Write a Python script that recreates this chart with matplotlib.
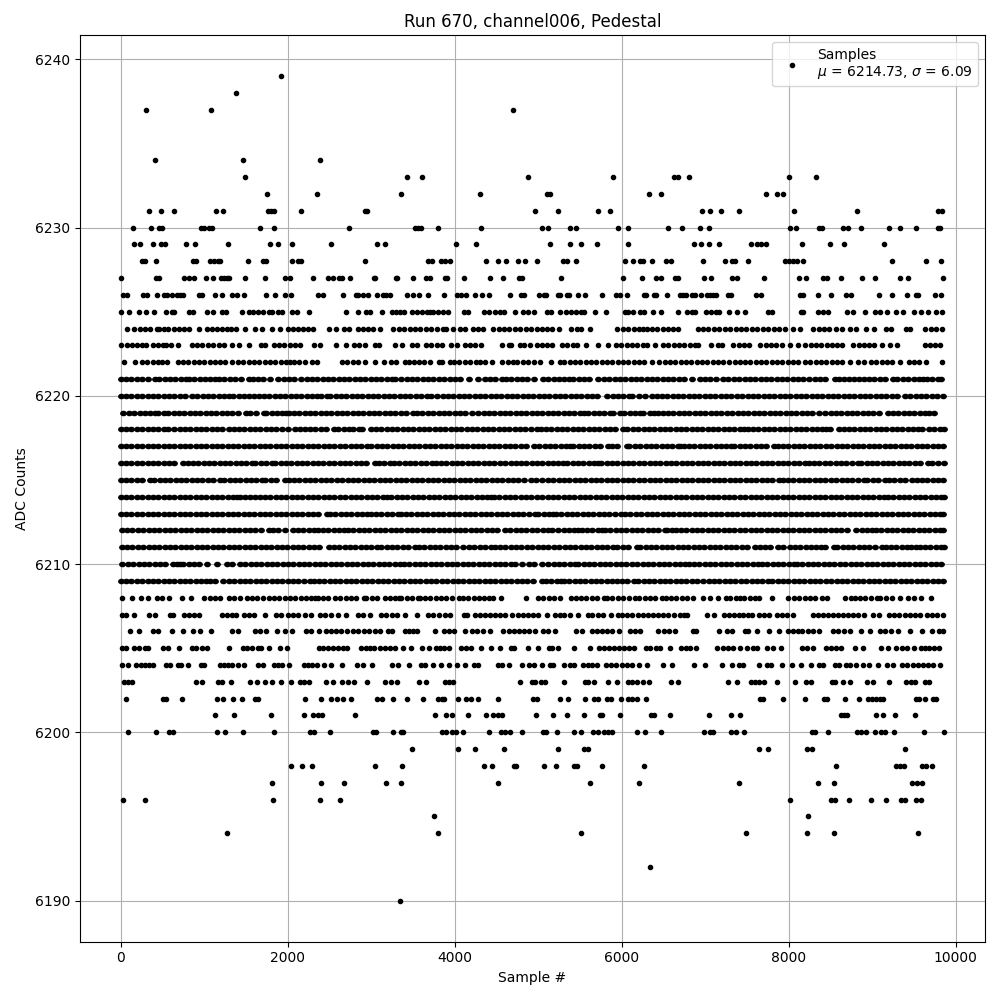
import matplotlib
matplotlib.use('Agg')
import matplotlib.pyplot as plt
from matplotlib.markers import MarkerStyle
from matplotlib.transforms import Affine2D

# sample numbers, one list per ADC level
adc_6190 = [3344]
adc_6192 = [6334]
adc_6194 = [1268, 3800, 5518, 7486, 8218, 8542, 9550]
adc_6195 = [3752, 8230]
adc_6196 = [32, 284, 1820, 2384, 2624, 8014, 8506, 8554, 8722, 8986, 9166, 9346, 9394, 9526, 9586]
adc_6197 = [1808, 2396, 2672, 3176, 3360, 4520, 5626, 6202, 7402, 8350, 8542, 9478, 9538, 9598]
adc_6198 = [2036, 2168, 2288, 3044, 3368, 4352, 4448, 4712, 4736, 5074, 5218, 5434, 5470, 5770, 6262, 8566, 9286, 9334, 9382, 9598, 9646, 9718]
adc_6199 = [3488, 4040, 4244, 4592, 5242, 5554, 5602, 7642, 7750, 8218, 8278, 9394]
adc_6200 = [92, 416, 572, 620, 1148, 1244, 1460, 1832, 2264, 2312, 2504, 3020, 3056, 3260, 3356, 3380, 3848, 3896, 3968, 4016, 4100, 4412, 4556, 4604, 4664, 4808,
            5062, 5098, 5230, 5434, 5518, 5662, 5722, 5794, 5842, 5890, 6178, 6274, 6466, 6982, 7054, 7090, 7306, 7366, 7462, 8278, 8314, 8470, 8818, 8866, 8926, 9034, 9106, 9154, 9262, 9622, 9860]
adc_6201 = [1124, 1352, 1796, 2192, 2300, 2360, 2408, 2804, 3764, 3896, 3968, 4160, 4376, 4460, 4520, 4568, 4976, 5182, 5350, 5554, 5746, 5770, 5986, 6346, 6382, 6574, 7042, 7306, 7414, 8626, 8662, 8698, 9046, 9130, 9274, 9514]
adc_6202 = [68, 500, 536, 728, 1148, 1220, 1340, 1448, 1604, 1640, 2204, 2396, 2516, 2588, 2660, 2756, 3068, 3128, 3260, 3428, 3620, 3800, 3848, 3872, 4040, 4136, 4196, 4280, 4520, 4942, 4990, 5266, 5362, 5566, 5674, 5722, 5830, 5878, 5998, 6082, 6130, 6178, 6286, 7654, 7690, 7930, 8194, 8422, 8458, 8674, 8842, 8950, 8998, 9046, 9094, 9130, 9526, 9562, 9634, 9730, 9766]
adc_6203 = [44, 92, 140, 896, 968, 1160, 1208, 1316, 1544, 1628, 1724, 1808, 1916, 2036, 2144, 2192, 2252, 2456, 2540, 2648, 2720, 2792, 2948, 3164, 3236, 3308, 3572, 3656, 3884, 3932, 3980, 4784, 4928, 4964, 5038, 5086, 5314, 5566, 5602, 5674, 5842, 5950, 6082, 6130, 6178, 6250, 6322, 6586, 6670, 7270, 7378, 7546, 7594, 7642, 7702, 7858, 8074, 8206, 8266, 8518, 8554, 8650, 8734, 8938, 9010, 9202, 9406, 9466, 9514, 9634, 9682]
adc_6204 = [20, 92, 188, 236, 284, 332, 380, 536, 584, 680, 716, 800, 956, 992, 1184, 1232, 1280, 1328, 1400, 1472, 1640, 1700, 1832, 1880, 1928, 2012, 2192, 2240, 2288, 2348, 2432, 2516, 2648, 2828, 2900, 3008, 3248, 3320, 3452, 3596, 3644, 3740, 3836, 3932, 4028, 4124, 4232, 4280, 4520, 4568, 4652, 4808, 4892, 4954, 5050, 5146, 5182, 5314, 5386, 5434, 5542, 5602, 5650, 5710, 5818, 5878, 5938, 6010, 6070, 6130, 6202, 6298, 6490, 6598, 6862, 6994, 7198, 7318, 7402, 7450, 7642, 7738, 7786, 7918, 8038, 8146, 8266, 8362, 8410, 8554, 8602, 8686, 8734, 8806, 8890, 8962, 9070, 9178, 9250, 9358, 9418, 9490, 9550, 9610, 9670, 9730, 9814]
adc_6205 = [20, 68, 164, 212, 284, 320, 500, 560, 692, 848, 896, 968, 1028, 1292, 1460, 1508, 1568, 1640, 1676, 1772, 1904, 1988, 2372, 2420, 2480, 2540, 2600, 2660, 2708, 2876, 2936, 2984, 3032, 3104, 3164, 3224, 3284, 3380, 3476, 3608, 3692, 3776, 3824, 3872, 3932, 4076, 4136, 4196, 4316, 4436, 4544, 4676, 4712, 4880, 5000, 5134, 5170, 5242, 5434, 5626, 5734, 5794, 5854, 5914, 5974, 6034, 6094, 6154, 6286, 6334, 6406, 6454, 6574, 6706, 6766, 6814, 6886, 7138, 7210, 7270, 7330, 7414, 7498, 7570, 7618, 7738, 7810, 7906, 8158, 8218, 8290, 8446, 8506, 8566, 8626, 8794, 8890, 9106, 9190, 9286, 9358, 9418, 9502, 9586, 9634, 9682, 9742, 9802]
adc_6206 = [116, 212, 380, 440, 608, 740, 860, 944, 1076, 1328, 1400, 1604, 1664, 1736, 1868, 1964, 2048, 2216, 2276, 2372, 2456, 2516, 2576, 2636, 2708, 2780, 2840, 2912, 2972, 3044, 3104, 3200, 3248, 3404, 3452, 3500, 3548, 3764, 3872, 3932, 3992, 4124, 4208, 4268, 4340, 4424, 4580, 4652, 4712, 4772, 4832, 4892, 4964, 5062, 5122, 5206, 5458, 5530, 5650, 5710, 5770, 5830, 5890, 5974, 6106, 6166, 6214, 6430, 6502, 6562, 6634, 6850, 6886, 7162, 7258, 7318, 7474, 7510, 7618, 7762, 7882, 7990, 8050, 8110, 8158, 8230, 8290, 8362, 8530, 8590, 8662, 8734, 8866, 8974, 9094, 9154, 9226, 9310, 9454, 9594, 9718, 9802, 9850]
adc_6207 = [20, 68, 164, 332, 404, 584, 620, 752, 812, 872, 932, 1208, 1268, 1328, 1376, 1472, 1532, 1592, 1724, 1856, 1916, 2000, 2060, 2120, 2204, 2276, 2384, 2444, 2516, 2600, 2696, 2840, 2900, 2984, 3116, 3176, 3248, 3308, 3404, 3548, 3680, 3740, 3816, 3884, 3944, 4112, 4148, 4244, 4304, 4364, 4424, 4484, 4544, 4604, 4688, 4760, 4820, 4880, 4940, 5000, 5110, 5206, 5266, 5314, 5386, 5482, 5602, 5650, 5722, 5782, 5878, 5962, 6010, 6070, 6130, 6190, 6250, 6310, 6370, 6430, 6490, 6550, 6622, 6694, 6742, 6778, 7018, 7102, 7222, 7282, 7342, 7402, 7450, 7510, 7558, 7642, 7702, 7762, 7858, 7918, 7978, 8050, 8290, 8350, 8410, 8470, 8530, 8590, 8650, 8710, 8770, 8830, 8902, 9010, 9082, 9202, 9262, 9322, 9394, 9454, 9514, 9574, 9658, 9718, 9778, 9850]
adc_6208 = [12, 132, 240, 320, 428, 490, 580, 732, 840, 1000, 1064, 1128, 1192, 1292, 1356, 1430, 1508, 1572, 1636, 1708, 1772, 1836, 1900, 1964, 2028, 2092, 2156, 2220, 2284, 2332, 2360, 2424, 2488, 2570, 2628, 2692, 2756, 2820, 2910, 2940, 3010, 3074, 3160, 3220, 3284, 3335, 3360, 3424, 3488, 3555, 3580, 3644, 3708, 3772, 3836, 3900, 3964, 4050, 4100, 4164, 4228, 4292, 4356, 4415, 4460, 4550, 4852, 5000, 5060, 5124, 5190, 5265, 5390, 5450, 5514, 5578, 5642, 5706, 5785, 5830, 5890, 5954, 6018, 6090, 6158, 6210, 6274, 6338, 6402, 6485, 6530, 6590, 6654, 6718, 6785, 6850, 6970, 7058, 7150, 7245, 7302, 7366, 7415, 7470, 7534, 7598, 7645, 7798, 7990, 8065, 8130, 8194, 8258, 8322, 8405, 8458, 8670, 8745, 8790, 8854, 8918, 8982, 9065, 9098, 9162, 9236, 9334, 9430, 9505, 9590, 9710]
adc_6209 = [0, 64, 128, 192, 256, 320, 384, 448, 512, 576, 640, 704, 768, 832, 896, 960, 1024, 1070, 1132, 1230, 1294, 1358, 1422, 1486, 1550, 1614, 1678, 1742, 1806, 1870, 1934, 1998, 2062, 2126, 2190, 2265, 2310, 2374, 2438, 2502, 2566, 2630, 2694, 2758, 2822, 2886, 2950, 3014, 3078, 3142, 3206, 3270, 3334, 3398, 3462, 3526, 3590, 3654, 3718, 3782, 3846, 3910, 3974, 4038, 4102, 4166, 4230, 4294, 4358, 4422, 4486, 4550, 4614, 4678, 4742, 4806, 4870, 4934, 5040, 5095, 5159, 5223, 5270, 5310, 5374, 5438, 5502, 5566, 5630, 5694, 5758, 5822, 5886, 5950, 6005, 6065, 6150, 6200, 6264, 6328, 6392, 6456, 6520, 6584, 6648, 6712, 6776, 6840, 6904, 6975, 7050, 7108, 7172, 7236, 7300, 7364, 7428, 7492, 7556, 7620, 7684, 7755, 7802, 7870, 7934, 7998, 8062, 8126, 8190, 8254, 8318, 8382, 8446, 8510, 8574, 8638, 8702, 8766, 8830, 8894, 8958, 9022, 9086, 9150, 9214, 9278, 9342, 9406, 9470, 9534, 9598, 9662, 9726, 9795, 9850]
adc_6210 = [20, 84, 148, 212, 276, 340, 404, 468, 532, 625, 670, 712, 750, 814, 878, 942, 1030, 1158, 1275, 1330, 1428, 1490, 1554, 1618, 1682, 1746, 1810, 1874, 1938, 2002, 2066, 2130, 2194, 2258, 2322, 2386, 2450, 2514, 2578, 2642, 2706, 2770, 2834, 2898, 2962, 3026, 3090, 3154, 3218, 3282, 3350, 3392, 3456, 3520, 3584, 3648, 3712, 3776, 3840, 3904, 3968, 4032, 4096, 4160, 4224, 4288, 4352, 4416, 4480, 4544, 4608, 4672, 4720, 4808, 4892, 4956, 5045, 5122, 5186, 5250, 5314, 5378, 5440, 5482, 5546, 5610, 5674, 5738, 5802, 5866, 5930, 5994, 6058, 6122, 6186, 6250, 6314, 6378, 6442, 6506, 6570, 6634, 6698, 6760, 6802, 6866, 6930, 6994, 7058, 7122, 7186, 7250, 7314, 7378, 7442, 7506, 7570, 7632, 7682, 7746, 7810, 7874, 7938, 8002, 8060, 8102, 8166, 8230, 8294, 8358, 8422, 8486, 8550, 8614, 8678, 8742, 8806, 8870, 8934, 8998, 9062, 9126, 9190, 9254, 9318, 9382, 9446, 9510, 9574, 9638, 9702, 9766, 9825]
adc_6211 = [12, 76, 140, 204, 268, 332, 396, 460, 524, 588, 652, 716, 780, 844, 908, 972, 1036, 1100, 1164, 1228, 1292, 1356, 1420, 1484, 1548, 1612, 1676, 1740, 1804, 1868, 1932, 1996, 2060, 2124, 2188, 2252, 2316, 2380, 2490, 2552, 2616, 2680, 2744, 2808, 2872, 2936, 3000, 3070, 3120, 3184, 3248, 3312, 3376, 3440, 3530, 3572, 3636, 3700, 3764, 3828, 3892, 3956, 4020, 4098, 4172, 4236, 4300, 4364, 4430, 4480, 4544, 4608, 4672, 4736, 4800, 4864, 4928, 4992, 5056, 5120, 5190, 5254, 5318, 5382, 5446, 5510, 5574, 5638, 5702, 5766, 5830, 5900, 5950, 6014, 6078, 6180, 6222, 6286, 6350, 6414, 6478, 6542, 6606, 6670, 6734, 6798, 6862, 6926, 6990, 7054, 7118, 7182, 7246, 7310, 7374, 7438, 7502, 7600, 7654, 7718, 7782, 7872, 7930, 8014, 8078, 8142, 8206, 8270, 8334, 8392, 8442, 8540, 8582, 8646, 8710, 8774, 8838, 8902, 8966, 9030, 9120, 9162, 9226, 9290, 9354, 9420, 9462, 9526, 9580, 9634, 9698, 9768, 9822, 9858]
adc_6212 = [12, 76, 140, 204, 268, 332, 396, 460, 524, 588, 652, 716, 780, 844, 908, 972, 1036, 1100, 1164, 1228, 1292, 1356, 1420, 1484, 1548, 1612, 1676, 1770, 1824, 1888, 1970, 2060, 2124, 2188, 2252, 2310, 2360, 2424, 2488, 2552, 2616, 2670, 2720, 2784, 2848, 2912, 2976, 3040, 3104, 3168, 3232, 3296, 3360, 3424, 3488, 3552, 3616, 3680, 3744, 3808, 3872, 3936, 4000, 4064, 4128, 4192, 4256, 4320, 4384, 4448, 4510, 4604, 4668, 4732, 4796, 4860, 4924, 4988, 5052, 5116, 5160, 5240, 5304, 5368, 5432, 5480, 5520, 5584, 5648, 5712, 5760, 5800, 5864, 5928, 5992, 6056, 6120, 6184, 6248, 6312, 6376, 6440, 6520, 6548, 6600, 6648, 6712, 6776, 6840, 6904, 6968, 7032, 7096, 7160, 7224, 7288, 7352, 7416, 7480, 7544, 7608, 7672, 7736, 7800, 7864, 7928, 7992, 8056, 8120, 8184, 8248, 8312, 8376, 8440, 8504, 8568, 8632, 8700, 8812, 8876, 8940, 9000, 9048, 9112, 9176, 9240, 9304, 9368, 9432, 9496, 9560, 9624, 9688, 9752, 9816, 9855]
adc_6213 = [0, 64, 128, 192, 256, 320, 384, 448, 512, 576, 640, 704, 768, 832, 896, 960, 1024, 1088, 1152, 1216, 1280, 1344, 1408, 1472, 1536, 1600, 1664, 1728, 1792, 1856, 1920, 1984, 2048, 2112, 2176, 2240, 2304, 2368, 2470, 2505, 2569, 2633, 2697, 2761, 2825, 2889, 2950, 2992, 3056, 3120, 3184, 3248, 3322, 3352, 3416, 3480, 3544, 3608, 3672, 3736, 3800, 3864, 3928, 3992, 4056, 4120, 4184, 4248, 4312, 4376, 4440, 4504, 4568, 4632, 4696, 4760, 4824, 4888, 4960, 5000, 5064, 5128, 5180, 5214, 5278, 5342, 5406, 5470, 5534, 5598, 5662, 5726, 5790, 5854, 5918, 5992, 6042, 6106, 6170, 6234, 6298, 6362, 6426, 6490, 6554, 6618, 6682, 6746, 6810, 6874, 6938, 7002, 7066, 7130, 7194, 7258, 7322, 7386, 7450, 7514, 7578, 7642, 7706, 7770, 7834, 7898, 7962, 8026, 8090, 8154, 8218, 8282, 8346, 8410, 8474, 8538, 8602, 8666, 8730, 8794, 8858, 8922, 8986, 9050, 9114, 9178, 9242, 9306, 9370, 9434, 9498, 9562, 9626, 9690, 9754, 9818, 9855]
adc_6214 = [0, 64, 128, 192, 256, 320, 384, 448, 512, 576, 640, 704, 768, 832, 896, 960, 1024, 1088, 1152, 1216, 1280, 1344, 1395, 1424, 1488, 1552, 1610, 1664, 1728, 1792, 1856, 1920, 1984, 2048, 2112, 2176, 2240, 2304, 2368, 2432, 2496, 2560, 2624, 2688, 2752, 2816, 2880, 2944, 3008, 3072, 3136, 3190, 3240, 3304, 3368, 3432, 3496, 3560, 3624, 3688, 3752, 3816, 3880, 3944, 4008, 4072, 4136, 4200, 4264, 4328, 4390, 4430, 4472, 4536, 4600, 4664, 4728, 4792, 4856, 4920, 4984, 5048, 5112, 5176, 5240, 5304, 5368, 5432, 5496, 5560, 5624, 5688, 5752, 5816, 5880, 5944, 6008, 6072, 6136, 6200, 6264, 6328, 6392, 6456, 6520, 6584, 6648, 6712, 6776, 6840, 6904, 6968, 7032, 7096, 7160, 7224, 7288, 7352, 7416, 7480, 7544, 7608, 7672, 7736, 7800, 7864, 7928, 7992, 8056, 8120, 8184, 8248, 8312, 8376, 8440, 8504, 8568, 8632, 8696, 8760, 8824, 8888, 8952, 9016, 9080, 9140, 9190, 9254, 9318, 9382, 9446, 9510, 9574, 9638, 9702, 9766, 9830, 9858]
adc_6215 = [0, 64, 128, 192, 256, 345, 400, 464, 528, 592, 656, 720, 784, 848, 912, 976, 1040, 1104, 1190, 1240, 1304, 1368, 1432, 1496, 1560, 1624, 1690, 1732, 1796, 1860, 1970, 2012, 2076, 2140, 2204, 2268, 2332, 2396, 2460, 2524, 2588, 2652, 2716, 2780, 2844, 2908, 2972, 3036, 3100, 3164, 3228, 3292, 3356, 3420, 3484, 3548, 3612, 3676, 3740, 3804, 3868, 3932, 3996, 4060, 4124, 4188, 4252, 4316, 4380, 4444, 4508, 4572, 4636, 4700, 4764, 4828, 4910, 4972, 5040, 5120, 5182, 5246, 5310, 5374, 5438, 5502, 5566, 5630, 5694, 5758, 5822, 5886, 5950, 6014, 6078, 6142, 6206, 6270, 6334, 6398, 6462, 6526, 6590, 6654, 6718, 6782, 6846, 6910, 6974, 7038, 7102, 7166, 7230, 7294, 7358, 7422, 7486, 7550, 7614, 7678, 7742, 7806, 7880, 7930, 7994, 8058, 8122, 8186, 8250, 8314, 8378, 8442, 8506, 8570, 8634, 8698, 8762, 8826, 8900, 8942, 9006, 9070, 9160, 9202, 9266, 9330, 9394, 9480, 9534, 9598, 9662, 9726, 9790, 9855]
adc_6216 = [0, 64, 128, 192, 256, 320, 384, 448, 512, 576, 640, 750, 800, 864, 928, 992, 1056, 1120, 1184, 1248, 1312, 1376, 1440, 1504, 1570, 1612, 1676, 1740, 1810, 1852, 1916, 1980, 2044, 2108, 2172, 2236, 2300, 2364, 2428, 2492, 2556, 2620, 2684, 2748, 2812, 2876, 2940, 3050, 3092, 3156, 3230, 3272, 3336, 3400, 3464, 3528, 3592, 3656, 3730, 3772, 3836, 3900, 3964, 4028, 4092, 4156, 4220, 4284, 4348, 4412, 4476, 4540, 4604, 4670, 4730, 4794, 4858, 4922, 4986, 5050, 5114, 5178, 5242, 5300, 5350, 5414, 5478, 5542, 5606, 5670, 5720, 5758, 5822, 5886, 5950, 6014, 6078, 6142, 6206, 6270, 6334, 6398, 6462, 6526, 6590, 6654, 6718, 6782, 6846, 6910, 6974, 7038, 7102, 7166, 7230, 7294, 7358, 7422, 7486, 7550, 7614, 7678, 7742, 7806, 7870, 7934, 7998, 8062, 8126, 8200, 8242, 8306, 8370, 8434, 8498, 8562, 8626, 8690, 8754, 8832, 8870, 8934, 8998, 9062, 9126, 9190, 9254, 9318, 9382, 9446, 9510, 9574, 9668, 9722, 9786, 9858]
adc_6217 = [0, 64, 128, 192, 256, 320, 384, 448, 512, 576, 640, 704, 768, 832, 896, 960, 1024, 1088, 1152, 1216, 1280, 1344, 1408, 1472, 1536, 1600, 1664, 1728, 1792, 1856, 1920, 1984, 2048, 2112, 2176, 2240, 2304, 2368, 2432, 2496, 2560, 2624, 2688, 2752, 2816, 2880, 2950, 3000, 3064, 3128, 3192, 3256, 3320, 3384, 3448, 3512, 3576, 3640, 3704, 3768, 3832, 3896, 3960, 4024, 4088, 4152, 4216, 4280, 4344, 4408, 4472, 4536, 4600, 4664, 4728, 4792, 4856, 4952, 5014, 5078, 5142, 5206, 5270, 5334, 5380, 5422, 5486, 5550, 5614, 5678, 5742, 5840, 5882, 5946, 6060, 6094, 6158, 6222, 6286, 6350, 6414, 6478, 6542, 6606, 6670, 6700, 6742, 6806, 6870, 6934, 6998, 7062, 7126, 7190, 7254, 7312, 7350, 7414, 7478, 7542, 7606, 7670, 7734, 7820, 7870, 7934, 7998, 8062, 8126, 8190, 8254, 8318, 8382, 8446, 8510, 8574, 8638, 8702, 8766, 8830, 8894, 8958, 9022, 9086, 9150, 9214, 9278, 9342, 9406, 9470, 9534, 9598, 9662, 9726, 9790, 9855]
adc_6218 = [0, 64, 128, 192, 256, 320, 384, 448, 512, 570, 640, 704, 768, 832, 896, 960, 1024, 1088, 1152, 1216, 1298, 1352, 1416, 1480, 1544, 1608, 1672, 1736, 1800, 1864, 1928, 1998, 2085, 2150, 2204, 2268, 2332, 2396, 2460, 2550, 2604, 2668, 2732, 2778, 2850, 2890, 2992, 3056, 3120, 3184, 3248, 3312, 3376, 3440, 3504, 3568, 3632, 3696, 3760, 3824, 3888, 3952, 4016, 4080, 4144, 4208, 4272, 4336, 4400, 4464, 4528, 4592, 4656, 4720, 4784, 4848, 4912, 4980, 5030, 5094, 5158, 5222, 5286, 5350, 5414, 5478, 5542, 5606, 5670, 5734, 5798, 5862, 5926, 6020, 6070, 6134, 6198, 6262, 6326, 6390, 6454, 6518, 6582, 6646, 6710, 6774, 6838, 6902, 6966, 7030, 7094, 7158, 7222, 7286, 7350, 7414, 7460, 7510, 7574, 7638, 7702, 7766, 7830, 7894, 7958, 8022, 8086, 8150, 8214, 8278, 8342, 8406, 8448, 8500, 8600, 8660, 8724, 8788, 8852, 8916, 8980, 9044, 9108, 9172, 9236, 9300, 9364, 9428, 9492, 9556, 9600, 9680, 9744, 9808, 9858]
adc_6219 = [32, 96, 160, 224, 288, 352, 410, 450, 522, 570, 634, 698, 762, 826, 890, 954, 1018, 1082, 1146, 1210, 1274, 1338, 1402, 1498, 1550, 1614, 1710, 1742, 1806, 1870, 1934, 1978, 2010, 2074, 2138, 2202, 2266, 2330, 2394, 2458, 2522, 2586, 2650, 2714, 2778, 2842, 2906, 2970, 3034, 3098, 3162, 3226, 3290, 3354, 3418, 3498, 3550, 3614, 3678, 3742, 3806, 3870, 3934, 3998, 4062, 4126, 4210, 4282, 4346, 4410, 4474, 4538, 4602, 4666, 4730, 4794, 4858, 4922, 4986, 5050, 5114, 5178, 5242, 5306, 5370, 5434, 5498, 5552, 5600, 5664, 5728, 5792, 5860, 5900, 5980, 6032, 6096, 6160, 6220, 6260, 6340, 6390, 6430, 6492, 6556, 6620, 6684, 6748, 6812, 6876, 6940, 7004, 7068, 7132, 7196, 7260, 7324, 7388, 7452, 7516, 7580, 7644, 7708, 7772, 7836, 7900, 7964, 8028, 8092, 8156, 8220, 8284, 8360, 8440, 8504, 8568, 8632, 8696, 8760, 8824, 8888, 8952, 9016, 9080, 9188, 9252, 9316, 9380, 9444, 9508, 9572, 9636, 9680, 9738]
adc_6220 = [0, 64, 128, 192, 256, 320, 384, 448, 512, 576, 640, 704, 768, 850, 918, 982, 1046, 1110, 1174, 1238, 1302, 1350, 1410, 1474, 1538, 1598, 1650, 1714, 1778, 1842, 1906, 1970, 2034, 2098, 2162, 2226, 2290, 2350, 2398, 2470, 2510, 2574, 2638, 2702, 2766, 2830, 2894, 2958, 3022, 3086, 3150, 3214, 3278, 3342, 3406, 3470, 3534, 3598, 3670, 3720, 3790, 3854, 3918, 3982, 4046, 4110, 4174, 4238, 4302, 4366, 4430, 4494, 4558, 4622, 4686, 4750, 4814, 4878, 4942, 5006, 5070, 5134, 5198, 5262, 5326, 5390, 5454, 5518, 5582, 5646, 5710, 5828, 5892, 5956, 6020, 6084, 6128, 6212, 6276, 6368, 6420, 6484, 6548, 6612, 6676, 6740, 6804, 6868, 6932, 6996, 7060, 7124, 7188, 7252, 7316, 7380, 7444, 7508, 7572, 7636, 7700, 7764, 7828, 7892, 7956, 8020, 8084, 8148, 8212, 8276, 8340, 8404, 8468, 8532, 8596, 8660, 8724, 8788, 8852, 8916, 8980, 9044, 9108, 9172, 9236, 9300, 9400, 9460, 9524, 9588, 9652, 9716, 9780, 9850]
adc_6221 = [0, 64, 128, 192, 256, 320, 410, 462, 526, 590, 654, 718, 782, 822, 882, 946, 1010, 1074, 1130, 1178, 1242, 1306, 1370, 1434, 1530, 1578, 1642, 1706, 1790, 1880, 1950, 2014, 2078, 2162, 2228, 2290, 2354, 2418, 2482, 2546, 2610, 2674, 2738, 2802, 2866, 2930, 2994, 3058, 3122, 3186, 3250, 3290, 3362, 3426, 3490, 3554, 3618, 3682, 3746, 3810, 3874, 3938, 4002, 4066, 4170, 4280, 4358, 4422, 4486, 4562, 4620, 4678, 4742, 4806, 4870, 4950, 5062, 5120, 5184, 5248, 5312, 5368, 5420, 5484, 5548, 5608, 5722, 5788, 5852, 5916, 5980, 6044, 6108, 6172, 6236, 6300, 6364, 6428, 6492, 6556, 6620, 6684, 6748, 6848, 6938, 7000, 7064, 7128, 7220, 7280, 7344, 7408, 7472, 7536, 7600, 7664, 7728, 7792, 7856, 7920, 7984, 8048, 8112, 8176, 8240, 8320, 8372, 8436, 8552, 8602, 8660, 8724, 8788, 8848, 8900, 8964, 9028, 9092, 9156, 9248, 9302, 9372, 9436, 9500, 9560, 9610, 9660, 9724, 9788, 9825]
adc_6222 = [36, 170, 250, 310, 390, 450, 490, 548, 682, 746, 810, 874, 938, 1002, 1066, 1130, 1194, 1250, 1338, 1402, 1466, 1530, 1594, 1658, 1722, 1786, 1850, 1914, 1978, 2030, 2070, 2134, 2210, 2290, 2350, 2650, 2714, 2778, 2842, 2930, 3040, 3152, 3238, 3302, 3402, 3450, 3514, 3578, 3638, 3710, 3810, 3850, 3938, 3990, 4054, 4118, 4182, 4250, 4302, 4366, 4450, 4570, 4634, 4698, 4750, 4818, 4882, 4946, 5020, 5152, 5260, 5312, 5376, 5440, 5504, 5568, 5632, 5696, 5760, 5824, 5888, 5952, 6016, 6080, 6144, 6208, 6272, 6360, 6452, 6516, 6580, 6644, 6708, 6772, 6836, 6900, 6964, 7028, 7092, 7156, 7220, 7284, 7360, 7412, 7476, 7540, 7604, 7668, 7732, 7796, 7860, 7924, 7988, 8052, 8116, 8192, 8260, 8324, 8388, 8452, 8516, 8580, 8644, 8740, 8830, 8902, 8988, 9052, 9116, 9180, 9244, 9340, 9440, 9504, 9568, 9652, 9834]
adc_6223 = [0, 78, 130, 198, 258, 302, 390, 450, 510, 538, 602, 690, 850, 914, 978, 1050, 1110, 1174, 1238, 1330, 1412, 1532, 1678, 1730, 1830, 1894, 1958, 2022, 2086, 2150, 2310, 2390, 2580, 2702, 2790, 2850, 2930, 3050, 3098, 3290, 3370, 3490, 3550, 3662, 3722, 3790, 3842, 3960, 4028, 4118, 4182, 4246, 4310, 4568, 4650, 4678, 4782, 4830, 4908, 4980, 5050, 5110, 5170, 5280, 5340, 5420, 5460, 5578, 5722, 5842, 5932, 5996, 6060, 6124, 6188, 6252, 6300, 6394, 6490, 6560, 6624, 6688, 6752, 6816, 6880, 6920, 7070, 7160, 7200, 7340, 7404, 7468, 7520, 7660, 7724, 7788, 7852, 7920, 8014, 8110, 8200, 8264, 8328, 8392, 8456, 8520, 8584, 8640, 8772, 8840, 8900, 8964, 9028, 9120, 9220, 9300, 9630, 9690, 9750, 9810]
adc_6224 = [80, 160, 224, 288, 348, 428, 460, 520, 560, 632, 700, 760, 820, 940, 1028, 1090, 1150, 1210, 1270, 1320, 1380, 1484, 1604, 1688, 1812, 1904, 2000, 2060, 2120, 2180, 2240, 2300, 2492, 2576, 2672, 2732, 2840, 2900, 2960, 3020, 3108, 3260, 3332, 3395, 3460, 3525, 3590, 3655, 3720, 3785, 3860, 3900, 3980, 4060, 4128, 4220, 4280, 4340, 4460, 4525, 4590, 4655, 4720, 4785, 4850, 4915, 4980,
            5050, 5110, 5170, 5250, 5398, 5460, 5510, 5626, 5950, 6015, 6080, 6145, 6210, 6250, 6298, 6360, 6425, 6490, 6555, 6620, 6670, 6910, 6975, 7040, 7105, 7170, 7235, 7300, 7365, 7430, 7495, 7560, 7625, 7690, 7755, 7830, 7890, 7954, 8050, 8138, 8290, 8370, 8430, 8490, 8570, 8642, 8730, 8810, 8930, 9018, 9170, 9230, 9410, 9450, 9630, 9710, 9770, 9842]
adc_6225 = [8, 104, 212, 296, 392, 536, 608, 632, 812, 860, 1028, 1100, 1208, 1256, 1448, 1532, 1580, 1640, 1700, 1772, 1808, 1880, 1928, 2048, 2108, 2252, 2696, 2840, 2936, 2984, 3128, 3248, 3296, 3344, 3392, 3488, 3550, 3610, 3670, 3700, 3740, 3800, 3860, 3920, 4112, 4160, 4352, 4416, 4480, 4540, 4592, 4724, 4820, 4880, 4948,
            5110, 5158, 5266, 5330, 5390, 5450, 5510, 5550, 5686, 5818, 6046, 6082, 6142, 6214, 6262, 6370, 6466, 6670, 6778, 6838, 6874, 7006, 7070, 7130, 7162, 7282, 7378, 7482, 7750, 7806, 8146, 8170, 8350, 8410, 8470, 8698, 8770, 8914, 9034, 9090, 9178, 9282, 9370, 9502, 9586, 9670, 9766, 9838]
adc_6226 = [32, 80, 260, 312, 428, 512, 548, 608, 672, 704, 740, 932, 968, 1124, 1208, 1328, 1388, 1472, 1736, 1844, 1964, 2036, 2360, 2420, 2660, 2816, 2840, 2900, 2960, 3068, 3140, 3176, 3224, 3428, 3500, 3572, 3680, 3872, 4028, 4076, 4136, 4244, 4328, 4412, 4664, 4796, 4832,
            5014, 5074, 5098, 5242, 5266, 5350, 5374, 5482, 5566, 5770, 5938, 5986, 6070, 6262, 6286, 6382, 6406, 6538, 6694, 6730, 6766, 6838, 6874, 6946, 7018, 7054, 7090, 7126, 7270, 7306, 7606, 7666, 8134, 8170, 8350, 8506, 8686, 8746, 9082, 9238, 9418, 9526, 9550, 9754, 9826]
adc_6227 = [8, 416, 452, 752, 812, 872, 1016, 1100, 1196, 1236, 1268, 1300, 1484, 1724, 1964, 2024, 2300, 2480, 2540, 2612, 2648, 2744, 3032, 3048, 3296, 3308, 3500, 3660, 3700, 3880, 3912, 4112, 4424, 4580, 4772, 4808,
            5278, 6022, 6238, 6406, 6466, 6634, 6670, 6982, 7066, 7318, 7378, 7702, 8122, 8206, 8410, 8458, 8626, 8878, 9034, 9334, 9430, 9850]
adc_6228 = [248, 284, 416, 860, 900, 1064, 1112, 1160, 1192, 1520, 1700, 1744, 2048, 2120, 2156, 2924, 3680, 3732, 3836, 3880, 3944, 4376, 4520, 4616, 4760, 4844, 4988,
            5302, 5350, 5458, 6046, 6142, 6214, 6250, 6358, 6526, 6586, 6970, 7234, 7318, 7354, 7510, 7954, 8002, 8050, 8098, 8170, 9238, 9646, 9826]
adc_6229 = [164, 228, 380, 476, 524, 776, 884, 1280, 1784, 1880, 2048, 2516, 3068, 3164, 4016, 4256, 5146, 5386, 5518, 5710, 6082, 6862, 6946, 7042, 7162, 7546, 7618, 7666, 7726, 8158, 8494, 8662, 9142]
adc_6230 = [152, 356, 460, 492, 960, 1000, 1052, 1092, 1664, 1832, 2732, 3524, 3560, 3600, 3800, 4320, 5050, 5122, 5386, 5458, 5962, 6082, 6550, 6718, 6934, 7042, 8014, 8086, 8370, 8402, 8650, 8710, 8866, 9202, 9334, 9526, 9790, 9810]
adc_6231 = [332, 476, 632, 1136, 1220, 1760, 1796, 1832, 2156, 2930, 2945, 4964, 5242, 5722, 5866, 6958, 7054, 7186, 7402, 8062, 8818, 9790, 9842]
adc_6232 = [1748, 2348, 3356, 4304, 5110, 5140, 6322, 6466, 7726, 7866, 7930]
adc_6233 = [1484, 3428, 3608, 4878, 5902, 6630, 6678, 6802, 8002, 8326]
adc_6234 = [404, 1460, 2384]
adc_6237 = [296, 1076, 4700]
adc_6238 = [1376]
adc_6239 = [1916]

sparse_levels = [6190, 6192, 6194, 6195, 6196, 6197, 6198, 6199, 6200, 6201, 6202, 6203, 6204, 6205, 6206, 6207,
                 6208, 6222, 6223, 6224, 6225, 6226, 6227, 6228, 6229, 6230, 6231, 6232, 6233, 6234, 6237, 6238, 6239]
sparse_rows = [adc_6190, adc_6192, adc_6194, adc_6195, adc_6196, adc_6197, adc_6198, adc_6199, adc_6200, adc_6201, adc_6202, adc_6203, adc_6204, adc_6205, adc_6206, adc_6207,
               adc_6208, adc_6222, adc_6223, adc_6224, adc_6225, adc_6226, adc_6227, adc_6228, adc_6229, adc_6230, adc_6231, adc_6232, adc_6233, adc_6234, adc_6237, adc_6238, adc_6239]
dense_levels = [6209, 6210, 6211, 6212, 6213, 6214, 6215, 6216, 6217, 6218, 6219, 6220, 6221]
dense_rows = [adc_6209, adc_6210, adc_6211, adc_6212, adc_6213, adc_6214, adc_6215, adc_6216, adc_6217, adc_6218, adc_6219, adc_6220, adc_6221]


def flatten(levels, rows):
    xs = []
    ys = []
    for level, row in zip(levels, rows):
        xs.extend(row)
        ys.extend([level] * len(row))
    return xs, ys


plt.figure(figsize=(10, 10))
x, y = flatten(sparse_levels, sparse_rows)
plt.plot(x, y, 'k.', label='Samples\n$\\mu$ = 6214.73, $\\sigma$ = 6.09')
# the middle rows overlap into solid bands
x, y = flatten(dense_levels, dense_rows)
plt.plot(x, y, 'k', linestyle='none', marker=MarkerStyle('.', transform=Affine2D().scale(1.3, 1)))
plt.title('Run 670, channel006, Pedestal')
plt.xlabel('Sample #')
plt.ylabel('ADC Counts')
plt.legend(loc='upper right')
plt.grid(True)
plt.tight_layout()
plt.subplots_adjust(top=0.965)
plt.savefig('out.png', dpi=100)
